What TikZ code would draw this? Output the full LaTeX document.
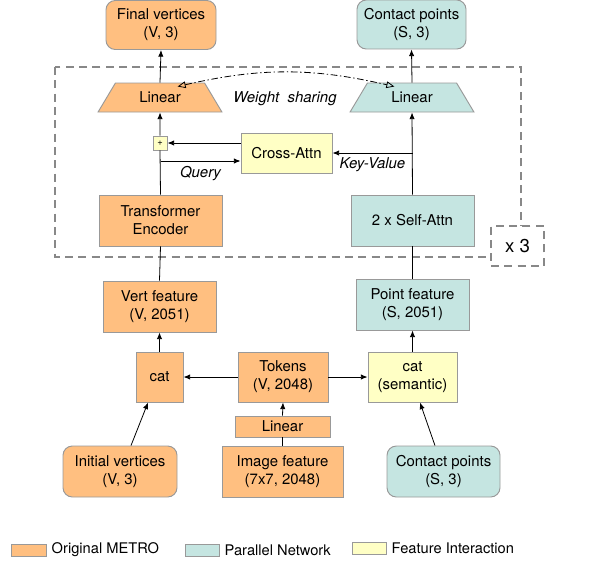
\documentclass[tikz,border=0pt]{standalone}
\usepackage{fontspec}
\setmainfont{TeX Gyre Heros}
\usepackage{xcolor}
\usetikzlibrary{shapes.geometric, arrows, arrows.meta, positioning, calc}
\definecolor{metro}{HTML}{FFBF80}
\definecolor{para}{HTML}{C5E5E1}
\definecolor{featint}{HTML}{FFFFC5}
\definecolor{edgegray}{HTML}{999999}
\definecolor{framegray}{HTML}{888888}

\begin{document}
\begin{tikzpicture}[
    x=0.75pt, y=-0.75pt,
    font=\fontsize{11.2}{13.5}\selectfont,
    box/.style={rectangle, draw=edgegray, line width=0.7pt, align=center, inner sep=1pt},
    orig/.style={box, fill=metro},
    par/.style={box, fill=para},
    inter/.style={box, fill=featint},
    endbox/.style={rounded corners=7pt},
    lin/.style={trapezium, trapezium left angle=54, trapezium right angle=54, trapezium stretches=true, draw=edgegray, line width=0.7pt, minimum width=93pt, minimum height=21.75pt, inner sep=0pt},
    arrow/.style={-{Latex[length=5pt, width=4pt]}, line width=0.6pt},
    link/.style={line width=0.6pt},
    label/.style={font=\fontsize{11.2}{13.5}\selectfont\itshape},
    legtext/.style={font=\fontsize{11}{13}\selectfont, inner sep=0pt}
]
    \useasboundingbox (0,0) rectangle (613,567);

    % Repeated block
    \draw [draw=framegray, line width=1.2pt, dash pattern=on 6pt off 4pt] (55,67) rectangle (521,257);
    \node [draw=framegray, fill=white, line width=1.2pt, dash pattern=on 6pt off 4pt, minimum width=39.75pt, minimum height=30pt, font=\fontsize{14}{16}\selectfont] (xthree) at (517.5,246) {x 3};

    % Outputs
    \node [orig, endbox, minimum width=82.5pt, minimum height=36.75pt] (finalv) at (161,25) {Final vertices\\(V, 3)};
    \node [par, endbox, minimum width=81.75pt, minimum height=36.75pt] (contacttop) at (411.5,24.5) {Contact points\\(S, 3)};

    % Linear heads
    \node [lin, fill=metro] (linL) at (160,97.5) {Linear};
    \node [lin, fill=para] (linR) at (412,97.5) {Linear};
    \node [label] (share) at (285,99) {Weight\ \ sharing};

    % Interaction
    \node [inter, minimum width=10.5pt, minimum height=10.5pt, inner sep=0pt, font=\fontsize{7}{7}\selectfont] (plus) at (160,143) {+};
    \node [inter, minimum width=68.25pt, minimum height=30pt] (cross) at (286.5,153) {Cross-Attn};

    % Encoders
    \node [orig, minimum width=92.25pt, minimum height=38.25pt] (transf) at (160.5,220.5) {Transformer\\Encoder};
    \node [par, minimum width=92.25pt, minimum height=38.25pt] (selfattn) at (412.5,220.5) {2 x Self-Attn};

    % Features
    \node [orig, minimum width=84.75pt, minimum height=38.25pt] (vertf) at (159.5,306.5) {Vert feature\\(V, 2051)};
    \node [par, minimum width=84.75pt, minimum height=38.25pt] (pointf) at (412.5,304.5) {Point feature\\(S, 2051)};

    % Concatenation
    \node [orig, minimum width=35.25pt, minimum height=37.5pt] (catL) at (159.5,377) {cat};
    \node [orig, minimum width=67.5pt, minimum height=37.5pt] (tokens) at (283,377) {Tokens\\(V, 2048)};
    \node [inter, minimum width=66.75pt, minimum height=37.5pt] (catS) at (412.5,377) {cat\\(semantic)};
    \node [orig, minimum width=71.25pt, minimum height=15.75pt] (linB) at (282.5,426.5) {Linear};

    % Inputs
    \node [orig, endbox, minimum width=85.5pt, minimum height=38.25pt] (initv) at (120,471.5) {Initial vertices\\(V, 3)};
    \node [orig, minimum width=90.75pt, minimum height=38.25pt] (imgf) at (282.5,471.5) {Image feature\\(7x7, 2048)};
    \node [par, endbox, minimum width=84.75pt, minimum height=38.25pt] (contactbot) at (443.5,471.5) {Contact points\\(S, 3)};

    % Bottom connections
    \draw [link] (imgf.north) -- (linB.south);
    \draw [arrow] (linB.north) -- (tokens.south);
    \draw [arrow] (tokens.west) -- (catL.east);
    \draw [arrow] (tokens.east) -- (catS.west);
    \draw [arrow] ([xshift=8.25pt]initv.north) -- ([xshift=-8.6pt]catL.south);
    \draw [arrow] ([xshift=-6.4pt]contactbot.north) -- ([xshift=5.6pt]catS.south);
    \draw [arrow] (catL.north) -- (vertf.south);
    \draw [arrow] (catS.north) -- (pointf.south);
    \draw [link] (vertf.north) -- (transf.south);
    \draw [link] (pointf.north) -- (selfattn.south);

    % Block connections
    \draw [link] (transf.north) -- (plus.south);
    \draw [arrow] ([yshift=-6pt]cross.west -| transf.north) -- ([yshift=-6pt]cross.west) node[midway, below, label] {Query};
    \draw [arrow] (cross.west |- plus.east) -- (plus.east);
    \draw [arrow] (selfattn.north) -- (linR.south);
    \draw [arrow] (selfattn.north |- cross.east) -- (cross.east) node[midway, below, label] {Key-Value};
    \draw [arrow] (plus.north) -- (linL.south);
    \draw [{Triangle[open, length=6pt, width=5pt]}-{Triangle[open, length=6pt, width=5pt]}, line width=0.6pt, dash pattern=on 5pt off 2pt on 1pt off 2pt] ([xshift=2pt, yshift=-3pt]linL.north east) to[bend left=13] ([xshift=-2pt, yshift=-3pt]linR.north west);
    \draw [arrow] (linL.north) -- (finalv.south);
    \draw [arrow] (linR.north) -- (contacttop.south);

    % Legend
    \node [box, fill=metro, minimum width=26.25pt, minimum height=9pt] (sw1) at (28.5,550) {};
    \node [legtext, right=3.75pt of sw1] (lg1) {Original METRO};
    \node [box, fill=para, minimum width=25.5pt, minimum height=9pt] (sw2) at (202,550) {};
    \node [legtext, right=3.75pt of sw2] (lg2) {Parallel Network};
    \node [box, fill=featint, minimum width=25.5pt, minimum height=9pt] (sw3) at (369,548) {};
    \node [legtext, right=3.75pt of sw3] (lg3) {Feature Interaction};

\end{tikzpicture}
\end{document}
